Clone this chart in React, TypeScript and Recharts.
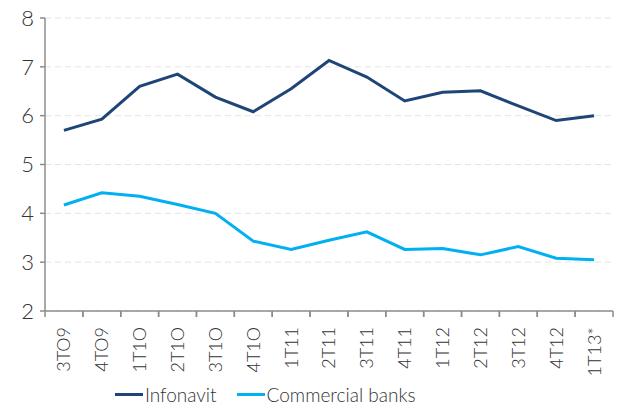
import { LineChart, Line, XAxis, YAxis, CartesianGrid, Legend } from 'recharts';

const quarters = ['3TO9', '4TO9', '1T1O', '2T1O', '3T1O', '4T1O', '1T11', '2T11', '3T11', '4T11', '1T12', '2T12', '3T12', '4T12', '1T13*'];
const infonavit = [5.70, 5.93, 6.60, 6.85, 6.38, 6.08, 6.55, 7.13, 6.79, 6.30, 6.48, 6.51, 6.20, 5.90, 6.00];
const commercialBanks = [4.17, 4.42, 4.35, 4.18, 4.00, 3.43, 3.26, 3.45, 3.62, 3.26, 3.28, 3.15, 3.32, 3.08, 3.05];
const yTicks = [2, 3, 4, 5, 6, 7, 8];

const data = quarters.map((q, i) => ({
    name: q,
    infonavit: infonavit[i],
    banks: commercialBanks[i],
}));

const WIDTH = 624;
const HEIGHT = 405;
const MARGIN = { top: 18, right: 11, left: 0, bottom: 0 };
const Y_WIDTH = 45;
const BAND = (WIDTH - MARGIN.left - MARGIN.right - Y_WIDTH) / quarters.length;

const FONT = 'Lato, "Open Sans", sans-serif';

const QuarterTick = (props: any) => {
    const { x, y, payload } = props;
    return (
        <g transform={`translate(${x},${y})`}>
            <line x1={-BAND / 2} y1={0} x2={-BAND / 2} y2={6} stroke="#8c8c8c" strokeWidth={1.5} />
            <line x1={BAND / 2} y1={0} x2={BAND / 2} y2={6} stroke="#8c8c8c" strokeWidth={1.5} />
            <text
                transform="rotate(-90)"
                x={-16}
                y={0}
                dy="0.36em"
                textAnchor="end"
                fill="#333"
                fontSize={18}
                fontFamily={FONT}
                fontWeight={300}
            >
                {payload.value}
            </text>
        </g>
    );
};

const LegendContent = () => {
    const items = [
        { label: 'Infonavit', color: '#1f4577' },
        { label: 'Commercial banks', color: '#00b0f0' },
    ];
    return (
        <div style={{ display: 'flex', alignItems: 'center', paddingLeft: 115, fontFamily: FONT, fontWeight: 300, fontSize: 19, color: '#333' }}>
            {items.map((it) => (
                <div key={it.label} style={{ display: 'flex', alignItems: 'center', marginRight: 20 }}>
                    <span style={{ display: 'inline-block', width: 28, height: 3, background: it.color, marginRight: 2 }} />
                    <span>{it.label}</span>
                </div>
            ))}
        </div>
    );
};

export default function App() {
    return (
        <div style={{ position: 'absolute', left: 0, top: 0, background: '#fff' }}>
            <LineChart width={WIDTH} height={HEIGHT} data={data} margin={MARGIN}>
                <CartesianGrid vertical={false} stroke="#e4e4e4" strokeDasharray="6 4" />
                <XAxis
                    dataKey="name"
                    interval={0}
                    tickLine={false}
                    tickSize={0}
                    tickMargin={0}
                    padding={{ left: BAND / 2, right: BAND / 2 }}
                    axisLine={{ stroke: '#8c8c8c', strokeWidth: 1.5 }}
                    tick={<QuarterTick />}
                    height={72}
                />
                <YAxis
                    domain={[2, 8]}
                    ticks={yTicks}
                    width={Y_WIDTH}
                    axisLine={{ stroke: '#8c8c8c', strokeWidth: 1.5 }}
                    tickLine={{ stroke: '#8c8c8c', strokeWidth: 1.5 }}
                    tickSize={5}
                    tickMargin={6}
                    tick={{ fill: '#333', fontSize: 22, fontFamily: FONT, fontWeight: 300 }}
                />
                <Legend verticalAlign="bottom" height={22} content={<LegendContent />} />
                <Line type="linear" dataKey="infonavit" name="Infonavit" stroke="#1f4577" strokeWidth={3} dot={false} isAnimationActive={false} />
                <Line type="linear" dataKey="banks" name="Commercial banks" stroke="#00b0f0" strokeWidth={3} dot={false} isAnimationActive={false} />
            </LineChart>
        </div>
    );
}
